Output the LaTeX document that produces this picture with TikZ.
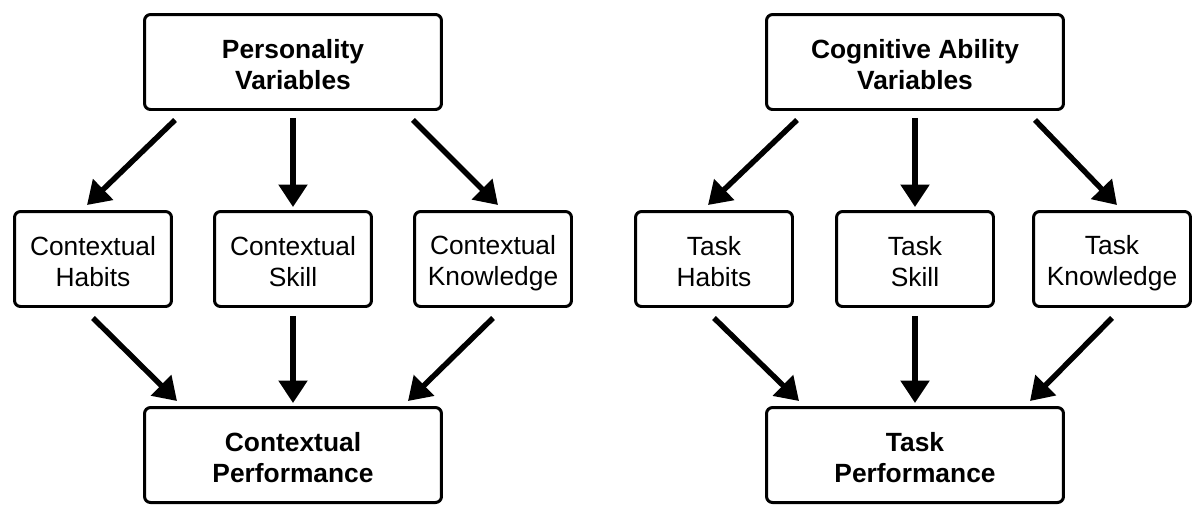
\documentclass[tikz,border=0pt]{standalone}
\usepackage{fontspec}
\setmainfont{Liberation Sans}
\usetikzlibrary{arrows.meta}
\tikzset{
  box/.style={draw, line width=1.7pt, rounded corners=0.12cm, minimum height=1.9cm, align=center,
    execute at begin node=\rule[-2pt]{0pt}{35.5pt}},
  bigbox/.style={box, minimum width=5.94cm, font=\fontsize{15}{18}\selectfont\bfseries},
  smallbox/.style={box, minimum width=3.14cm, font=\fontsize{15}{18}\selectfont},
  arr/.style={line width=3.1pt, -{Triangle[width=0.56cm,length=0.45cm]}}
}
\begin{document}
\begin{tikzpicture}[x=0.02cm,y=-0.02cm]
				\useasboundingbox (0,0) rectangle (1192,505);
				% personality side
				\node[bigbox] (pv) at (293,62) {Personality\\Variables};
				\node[smallbox] (ch) at (93,259) {Contextual\\Habits};
				\node[smallbox] (cs) at (293,259) {Contextual\\Skill};
				\node[smallbox] (ck) at (493,259) {Contextual\\Knowledge};
				\node[bigbox] (cp) at (293,455) {Contextual\\Performance};
				\draw[arr] ([xshift=-2.36cm,yshift=-0.18cm]pv.south) -- ([xshift=-0.12cm,yshift=0.1cm]ch.north);
				\draw[arr] ([yshift=-0.14cm]pv.south) -- ([yshift=0.06cm]cs.north);
				\draw[arr] ([xshift=2.4cm,yshift=-0.18cm]pv.south) -- ([xshift=0.1cm,yshift=0.1cm]ck.north);
				\draw[arr] ([yshift=-0.2cm]ch.south) -- ([xshift=-2.32cm,yshift=0.1cm]cp.north);
				\draw[arr] ([yshift=-0.16cm]cs.south) -- ([yshift=0.06cm]cp.north);
				\draw[arr] ([yshift=-0.2cm]ck.south) -- ([xshift=2.3cm,yshift=0.1cm]cp.north);
				% cognitive ability side
				\node[bigbox] (cv) at (915,62) {Cognitive Ability\\Variables};
				\node[smallbox] (th) at (714,259) {Task\\Habits};
				\node[smallbox] (ts) at (915,259) {Task\\Skill};
				\node[smallbox] (tk) at (1112,259) {Task\\Knowledge};
				\node[bigbox] (tp) at (915,455) {Task\\Performance};
				\draw[arr] ([xshift=-2.36cm,yshift=-0.18cm]cv.south) -- ([xshift=-0.12cm,yshift=0.1cm]th.north);
				\draw[arr] ([yshift=-0.14cm]cv.south) -- ([yshift=0.06cm]ts.north);
				\draw[arr] ([xshift=2.4cm,yshift=-0.18cm]cv.south) -- ([xshift=0.1cm,yshift=0.1cm]tk.north);
				\draw[arr] ([yshift=-0.2cm]th.south) -- ([xshift=-2.32cm,yshift=0.1cm]tp.north);
				\draw[arr] ([yshift=-0.16cm]ts.south) -- ([yshift=0.06cm]tp.north);
				\draw[arr] ([yshift=-0.2cm]tk.south) -- ([xshift=2.3cm,yshift=0.1cm]tp.north);
			\end{tikzpicture}
\end{document}
